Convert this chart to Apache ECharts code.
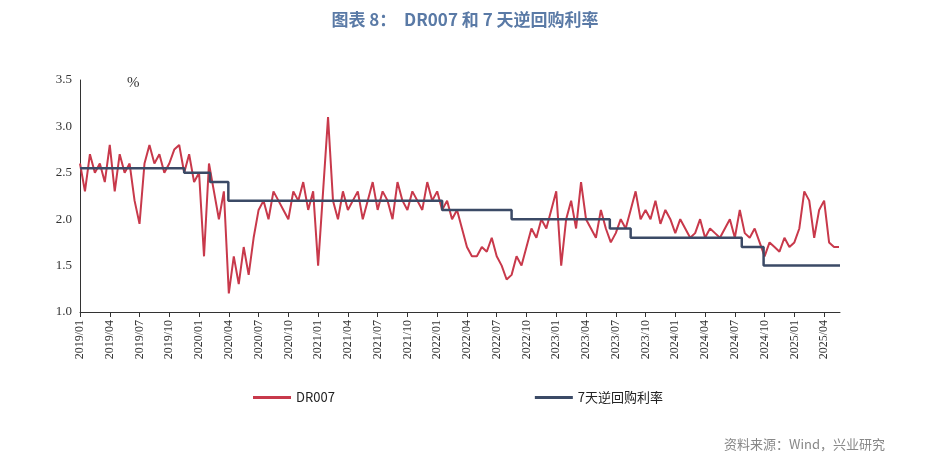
<!DOCTYPE html>
<html lang="zh">
<head>
<meta charset="UTF-8">
<title>DR007 和 7 天逆回购利率</title>
<script src="https://cdn.jsdelivr.net/npm/echarts@6/dist/echarts.min.js"></script>
<style>
    body { margin: 0; background: #fff; }
    #chart { width: 930px; height: 461px; }
</style>
</head>
<body>
<div id="chart"></div>
<script>
    // x 为自 2019/01 起的月份数，每半月一个点
    var dr007 = [
        2.6, 2.3, 2.7, 2.5, 2.6, 2.4, 2.8, 2.3, 2.7, 2.5, 2.6, 2.2,
        1.95, 2.6, 2.8, 2.6, 2.7, 2.5, 2.6, 2.75, 2.8, 2.5, 2.7, 2.4,
        2.5, 1.6, 2.6, 2.3, 2.0, 2.3, 1.2, 1.6, 1.3, 1.7, 1.4, 1.8,
        2.1, 2.2, 2.0, 2.3, 2.2, 2.1, 2.0, 2.3, 2.2, 2.4, 2.1, 2.3,
        1.5, 2.3, 3.1, 2.2, 2.0, 2.3, 2.1, 2.2, 2.3, 2.0, 2.2, 2.4,
        2.1, 2.3, 2.2, 2.0, 2.4, 2.2, 2.1, 2.3, 2.2, 2.1, 2.4, 2.2,
        2.3, 2.1, 2.2, 2.0, 2.1, 1.9, 1.7, 1.6, 1.6, 1.7, 1.65, 1.8,
        1.6, 1.5, 1.35, 1.4, 1.6, 1.5, 1.7, 1.9, 1.8, 2.0, 1.9, 2.1,
        2.3, 1.5, 2.0, 2.2, 1.9, 2.4, 2.0, 1.9, 1.8, 2.1, 1.9, 1.75,
        1.85, 2.0, 1.9, 2.1, 2.3, 2.0, 2.1, 2.0, 2.2, 1.95, 2.1, 2.0,
        1.85, 2.0, 1.9, 1.8, 1.85, 2.0, 1.8, 1.9, 1.85, 1.8, 1.9, 2.0,
        1.8, 2.1, 1.85, 1.8, 1.9, 1.75, 1.6, 1.75, 1.7, 1.65, 1.8, 1.7,
        1.75, 1.9, 2.3, 2.2, 1.8, 2.1, 2.2, 1.75, 1.7, 1.7
    ];
    var repoMonths = [0, 10.5, 13.1, 14.95, 36.5, 43.5, 53.4, 55.5, 66.7, 68.9, 76.6];
    var repoRates  = [2.55, 2.50, 2.40, 2.20, 2.10, 2.00, 1.90, 1.80, 1.70, 1.50, 1.50];
    var yTicks = [1.0, 1.5, 2.0, 2.5, 3.0, 3.5];

    var drData = dr007.map(function (v, i) { return [i * 0.5, v]; });
    var repoData = repoMonths.map(function (m, i) { return [m, repoRates[i]]; });

    var myChart = echarts.init(document.getElementById('chart'));
    var option = {
        animation: false,
        title: {
            text: '图表 8：  DR007 和 7 天逆回购利率',
            left: 'center', top: 6,
            textStyle: { color: '#5a7aa6', fontSize: 17, fontWeight: 'bold', fontFamily: 'Noto Sans CJK SC' }
        },
        graphic: [
            { type: 'text', left: 127, top: 76, style: { text: '%', fontSize: 15, fill: '#333', fontFamily: 'Liberation Serif' } },
            { type: 'text', right: 45, top: 438, style: { text: '资料来源：Wind，兴业研究', fontSize: 13, fill: '#888', fontFamily: 'Noto Sans CJK SC' } }
        ],
        legend: {
            bottom: 52, left: 248, itemGap: 200, itemWidth: 38, itemHeight: 3,
            icon: 'rect',
            textStyle: { fontSize: 13, color: '#222', fontFamily: 'Noto Sans CJK SC' },
            data: ['DR007', '7天逆回购利率']
        },
        grid: { left: 80, right: 90, top: 80, bottom: 149 },
        xAxis: {
            type: 'value', min: 0, max: 76.6, interval: 3,
            axisLine: { lineStyle: { color: '#333' } },
            axisTick: { show: true, lineStyle: { color: '#333' } },
            splitLine: { show: false },
            axisLabel: {
                rotate: 90, color: '#333', fontSize: 12, fontFamily: 'Liberation Serif',
                showMaxLabel: false,
                formatter: function (v) {
                    var y = 2019 + Math.floor(v / 12), m = Math.round(v % 12) + 1;
                    return y + '/' + (m < 10 ? '0' + m : m);
                }
            }
        },
        yAxis: {
            type: 'value', min: yTicks[0], max: yTicks[yTicks.length - 1], interval: 0.5,
            axisLine: { show: true, lineStyle: { color: '#333' } },
            axisTick: { show: false },
            splitLine: { show: false },
            axisLabel: { color: '#333', fontSize: 13, fontFamily: 'Liberation Serif',
                formatter: function (v) { return v.toFixed(1); } }
        },
        series: [
            {
                name: 'DR007', type: 'line', data: drData, symbol: 'none',
                lineStyle: { color: '#c8394b', width: 2 }, itemStyle: { color: '#c8394b' }
            },
            {
                name: '7天逆回购利率', type: 'line', data: repoData, symbol: 'none', step: 'end',
                lineStyle: { color: '#3b4a66', width: 2.5 }, itemStyle: { color: '#3b4a66' }
            }
        ]
    };
    myChart.setOption(option);
</script>
</body>
</html>
